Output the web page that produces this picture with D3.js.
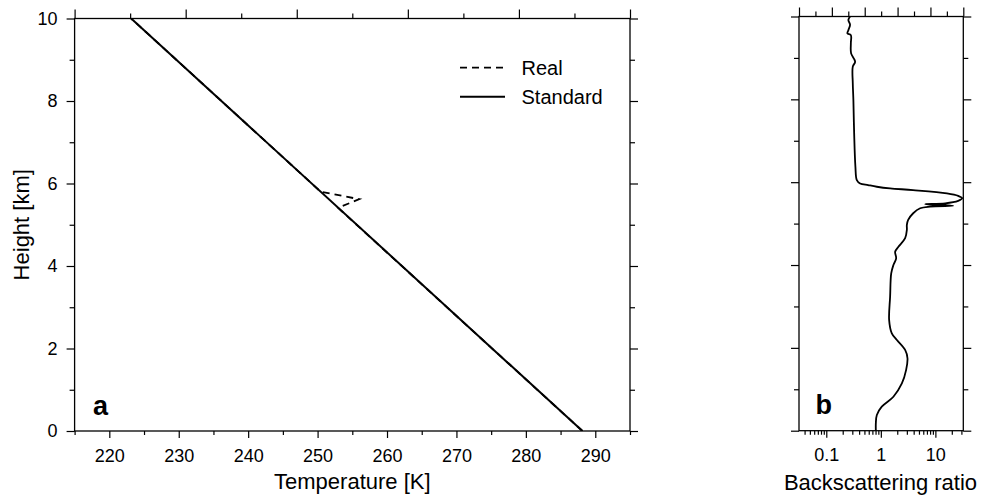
<!DOCTYPE html>
<html>
<head>
<meta charset="utf-8">
<script src="https://cdn.jsdelivr.net/npm/d3@7"></script>
<style>
html,body{margin:0;padding:0;background:#fff;}
svg{display:block;font-family:"Liberation Sans",Arial,sans-serif;}
</style>
</head>
<body>
<svg id="chart" width="985" height="500"></svg>
<script>
// ---- data ----
const stdHeights = [0, 10];
const stdTemp = [288.15, 223.15];
const realHeights = [0, 5.41, 5.62, 5.80, 10];
const realTemp = [288.15, 252.95, 256.0, 250.45, 223.15];

const bsHeights = [10.0, 9.92, 9.80, 9.67, 9.59, 9.55, 9.35, 9.11, 8.91, 8.79, 8.39, 7.98, 7.19, 6.37, 6.05, 5.97, 5.93, 5.89, 5.85, 5.81, 5.73, 5.67, 5.61, 5.55, 5.49, 5.47, 5.43, 5.41, 5.37, 5.25, 5.09, 4.97, 4.85, 4.65, 4.44, 4.32, 4.16, 4.00, 3.80, 3.24, 2.67, 2.35, 2.19, 1.95, 1.75, 1.47, 1.14, 0.82, 0.58, 0.38, 0.18, 0.0];
const bsRatio = [0.273, 0.254, 0.273, 0.254, 0.244, 0.282, 0.282, 0.285, 0.338, 0.306, 0.306, 0.314, 0.324, 0.342, 0.363, 0.417, 0.585, 0.845, 1.48, 3.9, 16.3, 26.2, 31.0, 26.2, 15.1, 6.5, 21.2, 8.0, 5.26, 3.92, 3.17, 3.0, 3.0, 2.79, 2.10, 1.83, 1.91, 1.70, 1.55, 1.48, 1.42, 1.59, 1.97, 2.79, 3.08, 2.91, 2.43, 1.70, 1.04, 0.845, 0.81, 0.81];

const tempMajor = [220, 230, 240, 250, 260, 270, 280, 290];
const tempMinor = [215, 225, 235, 245, 255, 265, 275, 285, 295];
const heightMajor = [0, 2, 4, 6, 8, 10];
const heightMinor = [1, 3, 5, 7, 9];
const topMajor = [0, 2, 4, 6, 8, 10];
const topMinor = [1, 3, 5, 7, 9];
const bsMajor = [0.1, 1, 10];
const bsMinor = [0.04, 0.05, 0.06, 0.07, 0.08, 0.09, 0.2, 0.3, 0.4, 0.5, 0.6, 0.7, 0.8, 0.9, 2, 3, 4, 5, 6, 7, 8, 9, 20, 30];
const legendLabels = ["Real", "Standard"];

// ---- drawing ----
const svg = d3.select("#chart");
svg.append("rect").attr("width", 985).attr("height", 500).attr("fill", "#fff");

const FS = 18;

function styleAxis(g) {
  g.select(".domain").remove();
  g.selectAll(".tick line").attr("stroke", "#000").attr("stroke-width", 1.2);
  g.selectAll(".tick text").attr("fill", "#000").style("font-size", FS + "px")
    .style("font-family", '"Liberation Sans", Arial, sans-serif');
}

function frame(x0, x1, y0, y1) {
  svg.append("rect").attr("x", x0).attr("y", y0).attr("width", x1 - x0).attr("height", y1 - y0)
    .attr("fill", "none").attr("stroke", "#000").attr("stroke-width", 1.3);
}

// Left panel
const L = {x0: 74.6, x1: 630, y0: 18.5, y1: 431};
const xT = d3.scaleLinear().domain([215, 295]).range([L.x0, L.x1]);
const yL = d3.scaleLinear().domain([0, 10]).range([L.y1, L.y0]);
const topL = d3.scaleLinear().domain([0, 10]).range([L.x0, L.x1]);

// Right panel
const R = {x0: 799, x1: 963.3, y0: 16.5, y1: 430.7};
const xB = d3.scaleLog().domain([0.0316, 32.5]).range([R.x0, R.x1]);
const yR = d3.scaleLinear().domain([0, 10]).range([R.y1, R.y0]);
const topR = d3.scaleLinear().domain([0, 10]).range([R.x0, R.x1]);

function panelAxes(P, xs, xMaj, xMin, xFmt, ys, topS, yLabels) {
  // bottom
  svg.append("g").attr("transform", `translate(0,${P.y1})`)
    .call(d3.axisBottom(xs).tickValues(xMin).tickSize(4).tickFormat(""))
    .call(styleAxis);
  svg.append("g").attr("transform", `translate(0,${P.y1})`)
    .call(d3.axisBottom(xs).tickValues(xMaj).tickSize(7).tickPadding(11).tickFormat(xFmt))
    .call(styleAxis);
  // top
  svg.append("g").attr("transform", `translate(0,${P.y0})`)
    .call(d3.axisTop(topS).tickValues(topMinor).tickSize(5).tickFormat(""))
    .call(styleAxis);
  svg.append("g").attr("transform", `translate(0,${P.y0})`)
    .call(d3.axisTop(topS).tickValues(topMajor).tickSize(9).tickFormat(""))
    .call(styleAxis);
  // left
  svg.append("g").attr("transform", `translate(${P.x0},0)`)
    .call(d3.axisLeft(ys).tickValues(heightMinor).tickSize(5).tickFormat(""))
    .call(styleAxis);
  svg.append("g").attr("transform", `translate(${P.x0},0)`)
    .call(d3.axisLeft(ys).tickValues(heightMajor).tickSize(8).tickPadding(9)
      .tickFormat(yLabels ? d3.format("d") : ""))
    .call(styleAxis);
  // right
  svg.append("g").attr("transform", `translate(${P.x1},0)`)
    .call(d3.axisRight(ys).tickValues(heightMinor).tickSize(5).tickFormat(""))
    .call(styleAxis);
  svg.append("g").attr("transform", `translate(${P.x1},0)`)
    .call(d3.axisRight(ys).tickValues(heightMajor).tickSize(8).tickFormat(""))
    .call(styleAxis);
  frame(P.x0, P.x1, P.y0, P.y1);
}

panelAxes(L, xT, tempMajor, tempMinor, d3.format("d"), yL, topL, true);
panelAxes(R, xB, bsMajor, bsMinor, d => String(d), yR, topR, false);

// clip paths
const defs = svg.append("defs");
defs.append("clipPath").attr("id", "clipL").append("rect")
  .attr("x", L.x0).attr("y", L.y0).attr("width", L.x1 - L.x0).attr("height", L.y1 - L.y0);
defs.append("clipPath").attr("id", "clipR").append("rect")
  .attr("x", R.x0).attr("y", R.y0 - 1).attr("width", R.x1 - R.x0).attr("height", R.y1 - R.y0 + 2);

// Temperature lines
const tLine = d3.line().x(d => xT(d[1])).y(d => yL(d[0]));
const realData = realHeights.map((h, i) => [h, realTemp[i]]);
const stdData = stdHeights.map((h, i) => [h, stdTemp[i]]);
svg.append("path").attr("clip-path", "url(#clipL)").attr("d", tLine(realData))
  .attr("fill", "none").attr("stroke", "#000").attr("stroke-width", 1.8).attr("stroke-dasharray", "7,5");
svg.append("path").attr("clip-path", "url(#clipL)").attr("d", tLine(stdData))
  .attr("fill", "none").attr("stroke", "#000").attr("stroke-width", 2);

// Backscatter curve
const bsData = bsHeights.map((h, i) => [h, bsRatio[i]]);
const bLine = d3.line().x(d => xB(d[1])).y(d => yR(d[0])).curve(d3.curveCatmullRom.alpha(0.5));
svg.append("path").attr("clip-path", "url(#clipR)").attr("d", bLine(bsData))
  .attr("fill", "none").attr("stroke", "#000").attr("stroke-width", 1.8);

// Legend
const lg = svg.append("g");
lg.append("line").attr("x1", 460).attr("x2", 505).attr("y1", 67.7).attr("y2", 67.7)
  .attr("stroke", "#000").attr("stroke-width", 1.8).attr("stroke-dasharray", "7,5");
lg.append("line").attr("x1", 460).attr("x2", 505).attr("y1", 96.7).attr("y2", 96.7)
  .attr("stroke", "#000").attr("stroke-width", 2);
lg.append("text").attr("x", 521.5).attr("y", 75).text(legendLabels[0]).style("font-size", "20px");
lg.append("text").attr("x", 521.5).attr("y", 103.5).text(legendLabels[1]).style("font-size", "20px");

// Titles
svg.append("text").attr("x", (L.x0 + L.x1) / 2).attr("y", 489).attr("text-anchor", "middle")
  .style("font-size", "22px").text("Temperature [K]");
svg.append("text").attr("x", 880.5).attr("y", 490).attr("text-anchor", "middle")
  .style("font-size", "22px").text("Backscattering ratio");
svg.append("text").attr("transform", `translate(29,${(L.y0 + L.y1) / 2}) rotate(-90)`)
  .attr("text-anchor", "middle").style("font-size", "22px").text("Height [km]");

// Panel letters
svg.append("text").attr("x", 93).attr("y", 415).style("font-size", "27px").style("font-weight", "bold").text("a");
svg.append("text").attr("x", 815.5).attr("y", 414).style("font-size", "27px").style("font-weight", "bold").text("b");
</script>
</body>
</html>
